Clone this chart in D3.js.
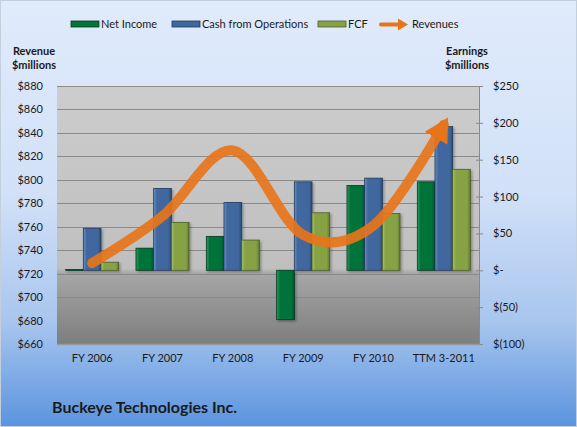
<!DOCTYPE html>
<html>
<head>
<meta charset="utf-8">
<script src="https://cdn.jsdelivr.net/npm/d3@7"></script>
<style>
  body { margin: 0; }
  text { font-family: Lato, "Open Sans", sans-serif; fill: #1a1a1a; }
</style>
</head>
<body>
<svg id="svg" width="577" height="427"></svg>
<script>
// Data
const categories = ['FY 2006', 'FY 2007', 'FY 2008', 'FY 2009', 'FY 2010', 'TTM 3-2011'];
const netIncome = [1, 30, 46, -67, 115, 120];
const cashFromOps = [57, 111, 92, 120, 125, 195];
const fcf = [11, 65, 41, 78, 77, 137];
const revenues = [729, 769, 825, 753, 761, 847];
const revenueTicks = d3.range(660, 881, 20);
const earningsTicks = [-100, -50, 0, 50, 100, 150, 200, 250];
const seriesNames = ['Net Income', 'Cash from Operations', 'FCF'];

const W = 577, H = 427;
const plot = { left: 57, right: 479, top: 86, bottom: 344 };

const svg = d3.select('#svg');
const defs = svg.append('defs');

// Background gradient
const bg = defs.append('linearGradient').attr('id', 'bg').attr('x1', 0).attr('y1', 0).attr('x2', 0).attr('y2', 1);
[[0, '#e0ebfc'], [0.45, '#d2e1f8'], [0.75, '#a9c6ee'], [1, '#5b94df']].forEach(([o, c]) =>
  bg.append('stop').attr('offset', o).attr('stop-color', c));

// Plot area gradient (lighter wall above zero, darker floor below)
const zeroFrac = 0.717;
const pg = defs.append('linearGradient').attr('id', 'plotbg').attr('x1', 0).attr('y1', 0).attr('x2', 0).attr('y2', 1);
[[0, '#cdcdcd'], [zeroFrac - 0.01, '#bfbfbf'], [zeroFrac + 0.01, '#a6a6a6'], [1, '#7e7e7e']].forEach(([o, c]) =>
  pg.append('stop').attr('offset', o).attr('stop-color', c));

// Bar gradients
const barColors = [
  { light: '#2f9a5c', base: '#05733a', dark: '#03502a', stroke: '#023a1e' },
  { light: '#6c92c6', base: '#3f689e', dark: '#2c4b77', stroke: '#22395c' },
  { light: '#a9c36c', base: '#87a244', dark: '#617a31', stroke: '#4b5f25' },
];
barColors.forEach((c, i) => {
  const g = defs.append('linearGradient').attr('id', `bar${i}`).attr('x1', 0).attr('y1', 0).attr('x2', 1).attr('y2', 0);
  [[0, c.light], [0.18, c.base], [0.82, c.base], [1, c.dark]].forEach(([o, col]) =>
    g.append('stop').attr('offset', o).attr('stop-color', col));
});

const shadow = defs.append('filter').attr('id', 'shadow').attr('x', '-20%').attr('y', '-20%').attr('width', '150%').attr('height', '150%');
shadow.append('feDropShadow').attr('dx', 1.5).attr('dy', 1.5).attr('stdDeviation', 1.2).attr('flood-color', '#000').attr('flood-opacity', 0.3);

svg.append('rect')
  .attr('x', 0.5).attr('y', 0.5).attr('width', W - 1).attr('height', H - 1)
  .attr('fill', 'url(#bg)').attr('stroke', '#c4cfdc');

// Scales
const x = d3.scaleBand().domain(categories).range([plot.left, plot.right]);
const xs = d3.scaleBand().domain(seriesNames).range([0, x.bandwidth()]).paddingOuter(0.49);
const yL = d3.scaleLinear().domain([660, 880]).range([plot.bottom, plot.top]);
const yR = d3.scaleLinear().domain([-100, 250]).range([plot.bottom, plot.top]);

// Plot area
svg.append('rect')
  .attr('x', plot.left).attr('y', plot.top)
  .attr('width', plot.right - plot.left).attr('height', plot.bottom - plot.top)
  .attr('fill', 'url(#plotbg)');

// Gridlines from left axis
svg.append('g')
  .selectAll('line')
  .data(revenueTicks)
  .join('line')
  .attr('x1', plot.left).attr('x2', plot.right)
  .attr('y1', (d) => Math.round(yL(d)) + 0.5).attr('y2', (d) => Math.round(yL(d)) + 0.5)
  .attr('stroke', '#8a8a8a').attr('stroke-width', 1);

// Left axis labels
const gLeft = svg.append('g')
  .attr('transform', `translate(${plot.left},0)`)
  .call(d3.axisLeft(yL).tickValues(revenueTicks).tickFormat((d) => `$${d}`).tickSize(0).tickPadding(14));
gLeft.select('.domain').remove();
gLeft.selectAll('text').attr('font-size', 11).attr('fill', '#1a1a1a').attr('font-family', 'Lato, sans-serif');

// Right axis
const fmtR = (d) => (d === 0 ? '$-' : d < 0 ? `$(${-d})` : `$${d}`);
const gRight = svg.append('g')
  .attr('transform', `translate(${plot.right},0)`)
  .call(d3.axisRight(yR).tickValues(earningsTicks).tickFormat(fmtR).tickSizeInner(4).tickSizeOuter(0).tickPadding(10));
gRight.select('.domain').attr('stroke', '#8a8a8a');
gRight.selectAll('.tick line').attr('stroke', '#8a8a8a').attr('x1', -3);
gRight.selectAll('text').attr('font-size', 11).attr('fill', '#1a1a1a').attr('font-family', 'Lato, sans-serif');

// Bottom axis
const gBottom = svg.append('g')
  .attr('transform', `translate(0,${plot.bottom})`)
  .call(d3.axisBottom(x).tickSize(0).tickPadding(10));
gBottom.select('.domain').attr('stroke', '#9a9a9a').attr('stroke-width', 1.5);
gBottom.selectAll('text').attr('font-size', 11).attr('fill', '#1a1a1a').attr('font-family', 'Lato, sans-serif');

// Bars
const seriesValues = [netIncome, cashFromOps, fcf];
const gBars = svg.append('g').attr('filter', 'url(#shadow)');
seriesValues.forEach((vals, si) => {
  gBars.append('g')
    .selectAll('rect')
    .data(vals.map((v, i) => ({ cat: categories[i], v })))
    .join('rect')
    .attr('x', (d) => x(d.cat) + xs(seriesNames[si]))
    .attr('width', xs.bandwidth())
    .attr('y', (d) => Math.min(yR(d.v), yR(0)))
    .attr('height', (d) => Math.max(1, Math.abs(yR(d.v) - yR(0))))
    .attr('fill', `url(#bar${si})`)
    .attr('stroke', barColors[si].stroke)
    .attr('stroke-width', 0.8);
});

// Revenue line with arrow
defs.append('marker')
  .attr('id', 'arrow')
  .attr('viewBox', '0 0 10 10')
  .attr('refX', 6.5)
  .attr('refY', 5)
  .attr('markerUnits', 'userSpaceOnUse')
  .attr('markerWidth', 24)
  .attr('markerHeight', 26)
  .attr('preserveAspectRatio', 'none')
  .attr('orient', 'auto')
  .append('path')
  .attr('d', 'M 0 0 L 10 5 L 0 10 z')
  .attr('fill', '#e8741a');

const line = d3.line()
  .x((d, i) => x(categories[i]) + x.bandwidth() / 2)
  .y((d) => yL(d))
  .curve(d3.curveCatmullRom.alpha(0));

svg.append('path')
  .datum(revenues)
  .attr('d', line)
  .attr('fill', 'none')
  .attr('stroke', '#e8741a')
  .attr('stroke-opacity', 0.92)
  .attr('stroke-width', 10)
  .attr('stroke-linecap', 'round')
  .attr('marker-end', 'url(#arrow)');

// Legend
const legend = svg.append('g').attr('font-size', 11);
const legendItems = [
  { label: 'Net Income', x: 71, i: 0 },
  { label: 'Cash from Operations', x: 172, i: 1 },
  { label: 'FCF', x: 318, i: 2 },
];
legendItems.forEach((d) => {
  legend.append('rect')
    .attr('x', d.x).attr('y', 21).attr('width', 28).attr('height', 6)
    .attr('fill', barColors[d.i].base).attr('stroke', barColors[d.i].stroke).attr('stroke-width', 0.8);
  legend.append('text').attr('x', d.x + 30).attr('y', 28).text(d.label);
});
defs.append('marker')
  .attr('id', 'arrowSmall')
  .attr('viewBox', '0 0 10 10')
  .attr('refX', 5).attr('refY', 5)
  .attr('markerUnits', 'userSpaceOnUse')
  .attr('markerWidth', 10).attr('markerHeight', 12)
  .attr('preserveAspectRatio', 'none')
  .attr('orient', 'auto')
  .append('path').attr('d', 'M 0 0 L 10 5 L 0 10 z').attr('fill', '#e8741a');
legend.append('line')
  .attr('x1', 381).attr('x2', 403).attr('y1', 24.5).attr('y2', 24.5)
  .attr('stroke', '#e8741a').attr('stroke-width', 4).attr('stroke-linecap', 'round')
  .attr('marker-end', 'url(#arrowSmall)');
legend.append('text').attr('x', 412).attr('y', 28).text('Revenues');

// Axis titles
const titles = svg.append('g').attr('font-size', 11).attr('font-weight', 'bold').attr('text-anchor', 'middle');
titles.append('text').attr('x', 34).attr('y', 55).text('Revenue');
titles.append('text').attr('x', 34).attr('y', 69).text('$millions');
titles.append('text').attr('x', 467).attr('y', 55).text('Earnings');
titles.append('text').attr('x', 467).attr('y', 69).text('$millions');

// Chart title
svg.append('text')
  .attr('x', 52).attr('y', 413)
  .attr('font-size', 16).attr('font-weight', 'bold')
  .text('Buckeye Technologies Inc.');
</script>
</body>
</html>
